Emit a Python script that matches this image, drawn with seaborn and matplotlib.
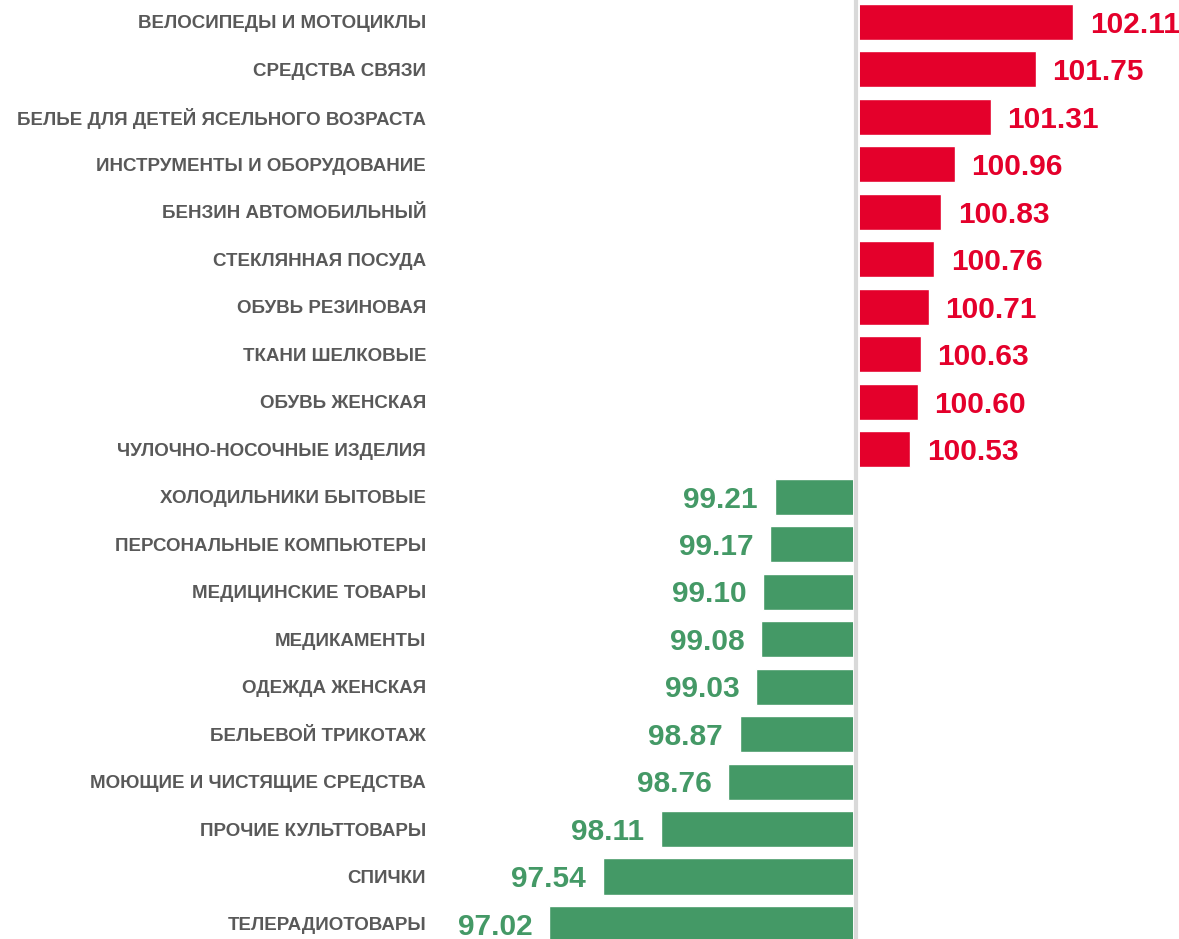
import pandas as pd
import seaborn as sns
import matplotlib.pyplot as plt

categories = [
    "ВЕЛОСИПЕДЫ И МОТОЦИКЛЫ", "СРЕДСТВА СВЯЗИ", "БЕЛЬЕ ДЛЯ ДЕТЕЙ ЯСЕЛЬНОГО ВОЗРАСТА",
    "ИНСТРУМЕНТЫ И ОБОРУДОВАНИЕ", "БЕНЗИН АВТОМОБИЛЬНЫЙ", "СТЕКЛЯННАЯ ПОСУДА",
    "ОБУВЬ РЕЗИНОВАЯ", "ТКАНИ ШЕЛКОВЫЕ", "ОБУВЬ ЖЕНСКАЯ", "ЧУЛОЧНО-НОСОЧНЫЕ ИЗДЕЛИЯ",
    "ХОЛОДИЛЬНИКИ БЫТОВЫЕ", "ПЕРСОНАЛЬНЫЕ КОМПЬЮТЕРЫ", "МЕДИЦИНСКИЕ ТОВАРЫ",
    "МЕДИКАМЕНТЫ", "ОДЕЖДА ЖЕНСКАЯ", "БЕЛЬЕВОЙ ТРИКОТАЖ", "МОЮЩИЕ И ЧИСТЯЩИЕ СРЕДСТВА",
    "ПРОЧИЕ КУЛЬТТОВАРЫ", "СПИЧКИ", "ТЕЛЕРАДИОТОВАРЫ",
]
values = [102.11, 101.75, 101.31, 100.96, 100.83, 100.76, 100.71, 100.63, 100.60, 100.53,
          99.21, 99.17, 99.10, 99.08, 99.03, 98.87, 98.76, 98.11, 97.54, 97.02]

RED = "#E4002B"
GREEN = "#449966"

df = pd.DataFrame({"cat": categories, "val": values})
df["delta"] = df["val"] - 100
df["sign"] = ["up" if v > 100 else "down" for v in df["val"]]

sns.set_style("white")
plt.rcParams["font.family"] = ["Liberation Sans", "DejaVu Sans"]

fig = plt.figure(figsize=(11.79, 9.39), dpi=100)
ax = fig.add_axes([440 / 1179, 0, 1 - 440 / 1179, 1])

sns.barplot(data=df, x="delta", y="cat", hue="sign", palette={"up": RED, "down": GREEN},
            dodge=False, width=0.76, saturation=1, legend=False, ax=ax, orient="h")

ax.set_xlim(95.96 - 100, 103.14 - 100)
ax.set_ylim(19.316, -0.463)
ax.axvline(0, color="white", lw=5, zorder=5)
ax.axvline(0, color="#D9D9D9", lw=3, zorder=6)

for i, (v, d) in enumerate(zip(df["val"], df["delta"])):
    col = RED if d > 0 else GREEN
    ax.annotate(f"{v:.2f}", (d, i), xytext=(12 if d > 0 else -12, -2), textcoords="offset points",
                ha="left" if d > 0 else "right", va="center", fontsize=21.5,
                fontweight="bold", color=col)

ax.set_xlabel("")
ax.set_ylabel("")
ax.set_xticks([])
ax.tick_params(axis="y", length=0, pad=10)
for t in ax.get_yticklabels():
    t.set_fontsize(13.5)
    t.set_fontweight("bold")
    t.set_color("#595959")
sns.despine(ax=ax, left=True, bottom=True)

fig.savefig("out.png", dpi=100)
